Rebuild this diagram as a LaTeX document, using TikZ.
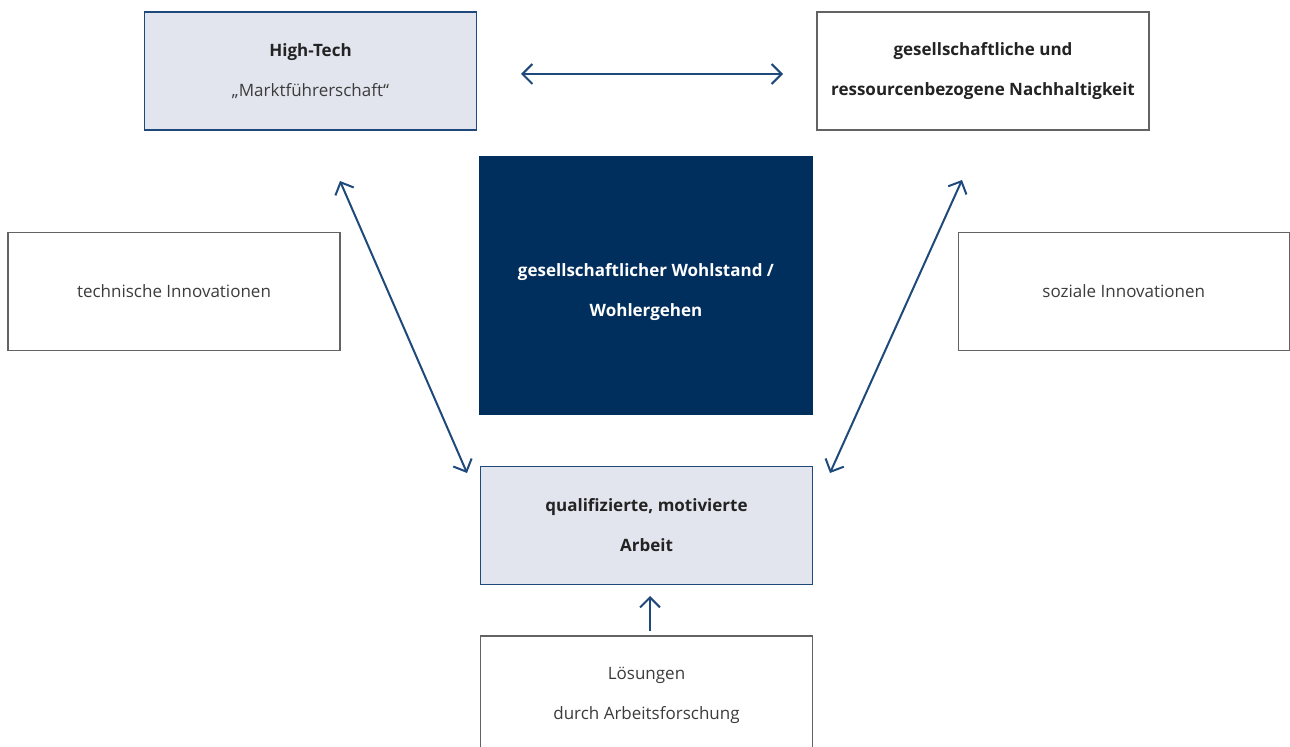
\documentclass[tikz,border=0pt]{standalone}
\usepackage{fontspec}
\setmainfont{Open Sans}
\usetikzlibrary{positioning, arrows.meta}
\definecolor{navycol}{RGB}{0,46,93}
\definecolor{arrowcol}{RGB}{31,73,122}
\definecolor{lightcol}{RGB}{226,229,238}
\definecolor{textcol}{RGB}{60,60,60}
\definecolor{boldcol}{RGB}{35,35,35}

\begin{document}
\begin{tikzpicture}[
			x=0.5pt,
			y=-0.5pt,
			box/.style={
				draw=textcol!80,
				rectangle,
				line width=0.6pt,
				minimum width=166pt,
				minimum height=59pt,
				align=center,
				text=textcol,
				font=\fontsize{8.5}{20}\selectfont,
				fill=white
			},
			keybox/.style={
				box,
				draw=arrowcol,
				fill=lightcol
			},
			centerbox/.style={
				box,
				draw=navycol,
				fill=navycol,
				minimum height=128.5pt,
				text height=33pt,
				text=white
			},
			link/.style={
				draw=arrowcol,
				line width=1pt,
				{Straight Barb[length=5pt,width=10pt]}-{Straight Barb[length=5pt,width=10pt]}
			}
			]
			\useasboundingbox (0,0) rectangle (1290,747);
			% Boxes
			\node[keybox] (tech) at (310.5,71) {\textbf{\color{boldcol}High-Tech}\\\char"201E Marktführerschaft\char"201C};
			\node[box] (nachhalt) at (983,71) {\textbf{\color{boldcol}gesellschaftliche und}\\\textbf{\color{boldcol}ressourcenbezogene Nachhaltigkeit}};
			\node[centerbox] (wohl) at (646,285.5) {\textbf{gesellschaftlicher Wohlstand /}\\\textbf{Wohlergehen}};
			\node[box] (techinno) at (174,291.5) {technische Innovationen};
			\node[box, minimum width=165.5pt] (sozinno) at (1123.8,291.5) {soziale Innovationen};
			\node[keybox] (arbeit) at (646.5,525.5) {\textbf{\color{boldcol}qualifizierte, motivierte}\\\textbf{\color{boldcol}Arbeit}};
			\node[box] (loesung) at (646.5,695) {Lösungen\\durch Arbeitsforschung};

			% Arrow ends
			\coordinate (h1) at (521,74);
			\coordinate (h2) at (783,74);
			\coordinate (l1) at (340,181);
			\coordinate (l2) at (467,473);
			\coordinate (r1) at (962,180);
			\coordinate (r2) at (830,473);
			\coordinate (v1) at (650,631);
			\coordinate (v2) at (650,596);

			% Arrows
			\draw[link] (h1) -- (h2);
			\draw[link] (l1) -- (l2);
			\draw[link] (r1) -- (r2);
			\draw[link, -{Straight Barb[length=5pt,width=10pt]}] (v1) -- (v2);
		\end{tikzpicture}
\end{document}
